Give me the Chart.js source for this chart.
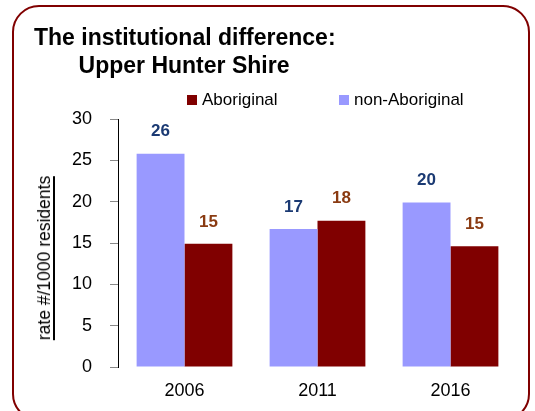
<!DOCTYPE html>
<html>
<head>
<meta charset="utf-8">
<script src="https://cdn.jsdelivr.net/npm/chart.js@4/dist/chart.umd.min.js"></script>
<style>
  html, body { margin: 0; padding: 0; background: #fff; }
  #wrap { position: relative; width: 535px; height: 411px; overflow: hidden; font-family: "Liberation Sans", Arial, sans-serif; }
  #frame { position: absolute; left: 12px; top: 5px; width: 514px; height: 412px; border: 2.5px solid #800000; border-radius: 27px; }
  #title { position: absolute; left: 34px; width: 300px; top: 23px; text-align: center; font-weight: bold; font-size: 23px; line-height: 28px; color: #000; white-space: nowrap; }
  #ytitle { position: absolute; left: 45px; top: 258px; transform: translate(-50%, -50%) rotate(-90deg); font-size: 17.5px; white-space: nowrap; border-bottom: 2px solid #000; line-height: 18px; color: #000; }
  .leg { position: absolute; top: 90px; font-size: 17px; line-height: 20px; color: #000; white-space: nowrap; }
  .leg span { display: inline-block; width: 10px; height: 10px; margin-right: 5px; vertical-align: 0px; }
  canvas { position: absolute; left: 0; top: 0; }
</style>
</head>
<body>
<div id="wrap">
  <div id="frame"></div>
  <canvas id="chart" width="535" height="411"></canvas>
  <div id="title">The institutional difference:<br>Upper Hunter Shire</div>
  <div id="ytitle">rate #/1000 residents</div>
  <div id="legend"></div>
</div>
<script>
// data
const years = ['2006', '2011', '2016'];
const nonAboriginal = [25.8, 16.7, 19.9];
const aboriginal = [14.9, 17.7, 14.6];
const yTicks = [0, 5, 10, 15, 20, 25, 30];

const colNonAb = '#9999FF';
const colAb = '#800000';

// value labels above each bar
const valueLabels = {
  id: 'valueLabels',
  afterDatasetsDraw(chart) {
    const ctx = chart.ctx;
    ctx.save();
    ctx.font = 'bold 17px "Liberation Sans", Arial, sans-serif';
    ctx.textAlign = 'center';
    ctx.textBaseline = 'middle';
    chart.data.datasets.forEach((ds, i) => {
      ctx.fillStyle = ds.valueColor;
      chart.getDatasetMeta(i).data.forEach((bar, j) => {
        ctx.fillText(Math.round(ds.data[j]), bar.x, bar.y - 22);
      });
    });
    ctx.restore();
  }
};

let chart = new Chart(document.getElementById('chart').getContext('2d'), {
  type: 'bar',
  data: {
    labels: years,
    datasets: [
      { label: 'non-Aboriginal', data: nonAboriginal, backgroundColor: colNonAb, valueColor: '#1b3a73', categoryPercentage: 0.72, barPercentage: 1 },
      { label: 'Aboriginal', data: aboriginal, backgroundColor: colAb, valueColor: '#8a3b12', categoryPercentage: 0.72, barPercentage: 1 }
    ]
  },
  options: {
    responsive: false,
    animation: false,
    layout: { padding: { left: 0, right: 18, top: 119, bottom: 0 } },
    plugins: { legend: { display: false }, tooltip: { enabled: false } },
    scales: {
      x: {
        grid: { display: false, drawTicks: false },
        border: { display: false },
        ticks: { color: '#000', padding: 13, font: { size: 18, family: '"Liberation Sans", Arial, sans-serif' } },
        afterFit(s) { s.height = 44; }
      },
      y: {
        min: 0, max: 30,
        afterBuildTicks(s) { s.ticks = yTicks.map(v => ({ value: v })); },
        grid: { drawOnChartArea: false, drawTicks: true, tickLength: 8, color: '#888' },
        border: { display: true, color: '#000', width: 1 },
        ticks: { color: '#000', padding: 18, font: { size: 18, family: '"Liberation Sans", Arial, sans-serif' } },
        afterFit(s) { s.width = 118; }
      }
    }
  },
  plugins: [valueLabels]
});

// legend (Aboriginal first, as in the picture)
const legendPos = { 'Aboriginal': 187, 'non-Aboriginal': 339 };
const legendDiv = document.getElementById('legend');
chart.data.datasets.slice().reverse().forEach(ds => {
  const d = document.createElement('div');
  d.className = 'leg';
  d.style.left = legendPos[ds.label] + 'px';
  d.innerHTML = '<span style="background:' + ds.backgroundColor + '"></span>' + ds.label;
  legendDiv.appendChild(d);
});
</script>
</body>
</html>
